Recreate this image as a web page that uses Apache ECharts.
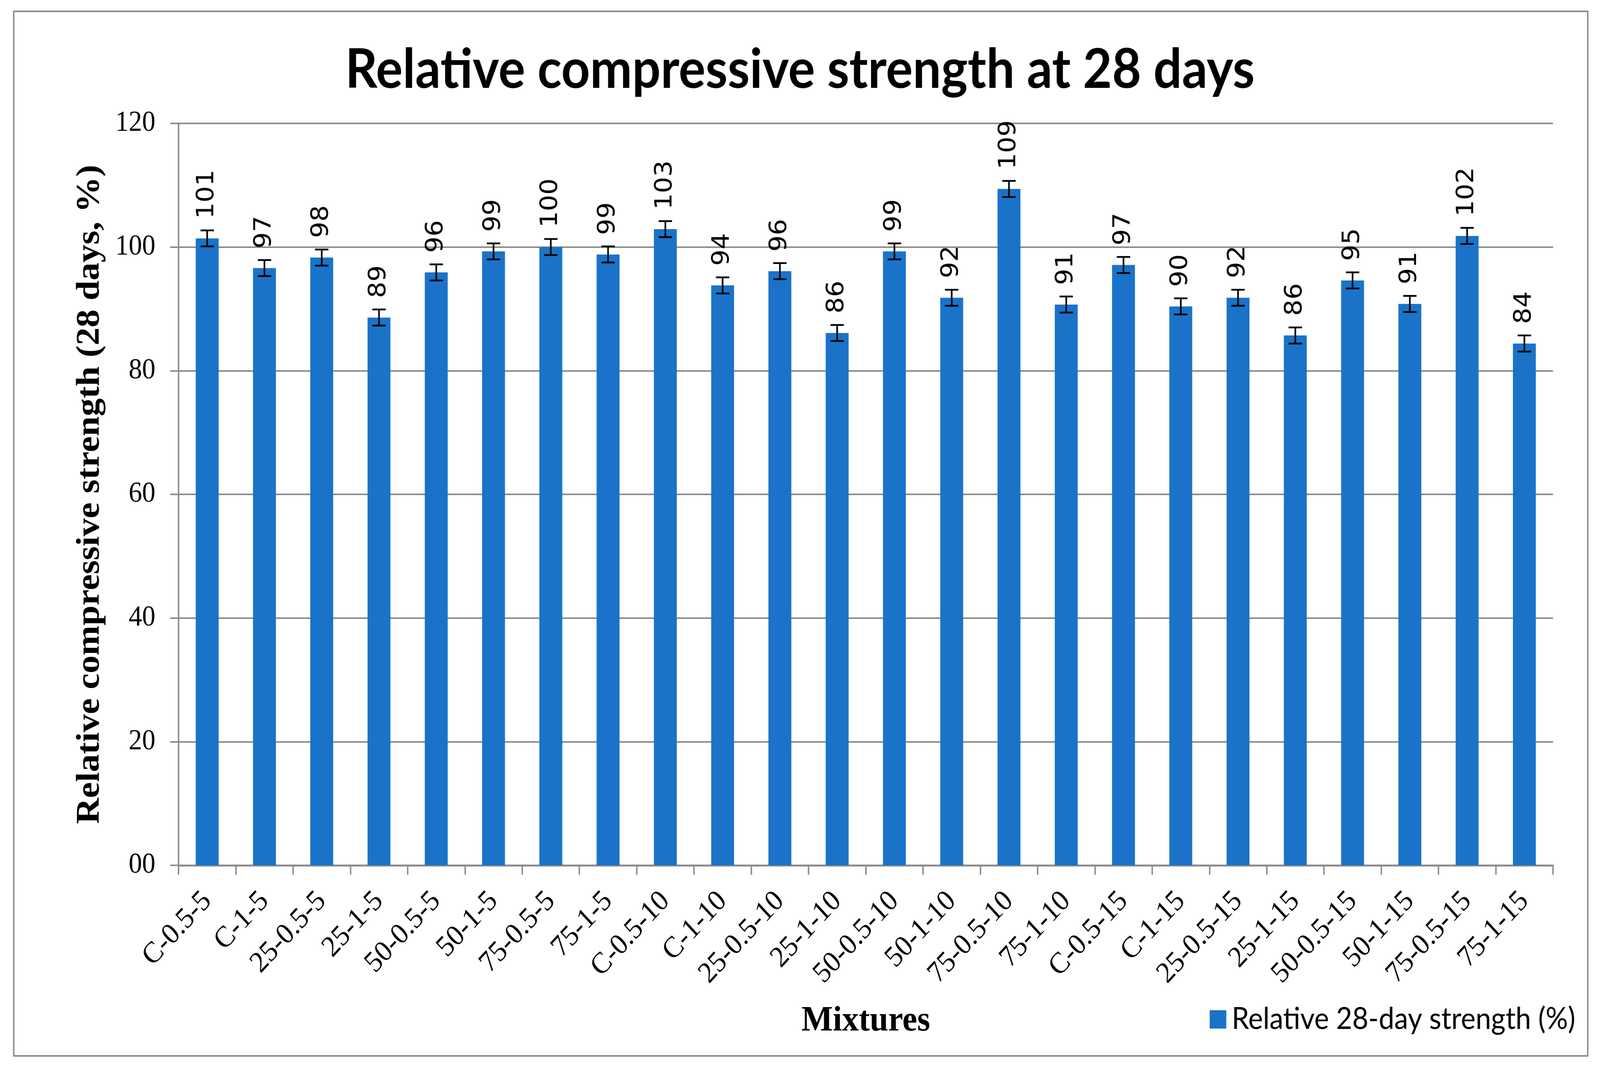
<!DOCTYPE html>
<html>
<head>
<meta charset="utf-8">
<script src="https://cdn.jsdelivr.net/npm/echarts@6/dist/echarts.min.js"></script>
<style>
html,body{margin:0;padding:0;background:#fff;overflow:hidden;}
#chart{position:absolute;left:0;top:0;width:4427px;height:2735px;transform-origin:0 0;}
</style>
</head>
<body>
<div id="chart"></div>
<script>
const categories = ['C-0.5-5','C-1-5','25-0.5-5','25-1-5','50-0.5-5','50-1-5','75-0.5-5','75-1-5',
  'C-0.5-10','C-1-10','25-0.5-10','25-1-10','50-0.5-10','50-1-10','75-0.5-10','75-1-10',
  'C-0.5-15','C-1-15','25-0.5-15','25-1-15','50-0.5-15','50-1-15','75-0.5-15','75-1-15'];
const strength = [101.4,96.6,98.3,88.6,95.9,99.3,100.0,98.8,
  102.9,93.8,96.1,86.1,99.3,91.8,109.4,90.7,
  97.1,90.4,91.8,85.7,94.6,90.8,101.8,84.4];
const errors = [1.3,1.3,1.3,1.3,1.3,1.3,1.3,1.3,
  1.3,1.3,1.3,1.3,1.3,1.3,1.3,1.3,
  1.3,1.3,1.3,1.3,1.3,1.3,1.3,1.3];
const yTickLabels = ['00','20','40','60','80','100','120'];
const seriesName = 'Relative 28-day strength (%)';

// The page is designed on a 4427 x 2735 canvas; fit it to the actual window.
const el = document.getElementById('chart');
const sx = (window.innerWidth || 4427) / 4427;
const sy = (window.innerHeight || 2735) / 2735;
el.style.transform = 'scale(' + sx + ',' + sy + ')';

const chart = echarts.init(el);
const gray = '#8C8C8C';
const option = {
  backgroundColor: '#fff',
  animation: false,
  title: {
    text: 'Relative compressive strength at 28 days',
    left: 'center',
    top: 106,
    textStyle: {fontFamily: 'Lato', fontWeight: 'bold', fontSize: 139, color: '#000'}
  },
  graphic: [{
    type: 'rect',
    shape: {x: 38, y: 29, width: 4355, height: 2675},
    style: {fill: 'none', stroke: gray, lineWidth: 4},
    silent: true, z: -1
  }],
  legend: {
    data: [seriesName],
    left: 3347,
    top: 2572,
    padding: 0,
    itemWidth: 46,
    itemHeight: 47,
    itemGap: 0,
    icon: 'rect',
    textStyle: {fontFamily: 'Lato', fontSize: 77, color: '#000', padding: [0, 0, 0, 10]}
  },
  grid: {left: 494, right: 130, top: 316, bottom: 519, containLabel: false},
  xAxis: {
    type: 'category',
    data: categories,
    name: 'Mixtures',
    nameLocation: 'middle',
    nameGap: 353,
    nameMoveOverlap: false,
    nameTextStyle: {fontFamily: 'Liberation Serif', fontWeight: 'bold', fontSize: 92, color: '#000'},
    axisLine: {lineStyle: {color: gray, width: 5}},
    axisTick: {show: true, alignWithLabel: false, length: 24, lineStyle: {color: gray, width: 4}},
    axisLabel: {rotate: 45, margin: 80, interval: 0, fontFamily: 'Liberation Serif', fontSize: 76, color: '#000'}
  },
  yAxis: {
    type: 'value',
    min: 0, max: 120, interval: 20,
    name: 'Relative compressive strength (28 days, %)',
    nameLocation: 'middle',
    nameRotate: 90,
    nameGap: 199,
    nameMoveOverlap: false,
    nameTextStyle: {fontFamily: 'Liberation Serif', fontWeight: 'bold', fontSize: 92, color: '#000'},
    axisLine: {show: true, lineStyle: {color: gray, width: 4}},
    axisTick: {show: true, length: 23, lineStyle: {color: gray, width: 4}},
    splitLine: {show: true, lineStyle: {color: gray, width: 4}},
    axisLabel: {
      margin: 64, fontFamily: 'Liberation Serif', fontSize: 74, color: '#000',
      formatter: function (v) { return yTickLabels[Math.round(v / 20)]; }
    }
  },
  series: [{
    name: seriesName,
    type: 'bar',
    data: strength,
    barWidth: '40%',
    itemStyle: {color: '#1A73C8'},
    label: {
      show: true,
      position: 'top',
      distance: 50,
      rotate: 90,
      align: 'left',
      verticalAlign: 'middle',
      fontFamily: 'DejaVu Sans',
      fontSize: 66,
      color: '#000',
      formatter: function (p) { return String(Math.round(p.value)); }
    },
    z: 2
  }, {
    type: 'custom',
    name: 'err',
    data: strength.map(function (v, i) { return [i, v, errors[i]]; }),
    encode: {x: 0, y: 1},
    z: 5,
    renderItem: function (params, api) {
      const i = api.value(0), v = api.value(1), e = api.value(2);
      const top = api.coord([i, v + e]);
      const bot = api.coord([i, v - e]);
      const h = 18.5;
      const st = {stroke: '#000', lineWidth: 4.5};
      return {type: 'group', children: [
        {type: 'line', shape: {x1: top[0], y1: top[1], x2: bot[0], y2: bot[1]}, style: st},
        {type: 'line', shape: {x1: top[0] - h, y1: top[1], x2: top[0] + h, y2: top[1]}, style: st},
        {type: 'line', shape: {x1: bot[0] - h, y1: bot[1], x2: bot[0] + h, y2: bot[1]}, style: st}
      ]};
    }
  }]
};
chart.setOption(option);
</script>
</body>
</html>
